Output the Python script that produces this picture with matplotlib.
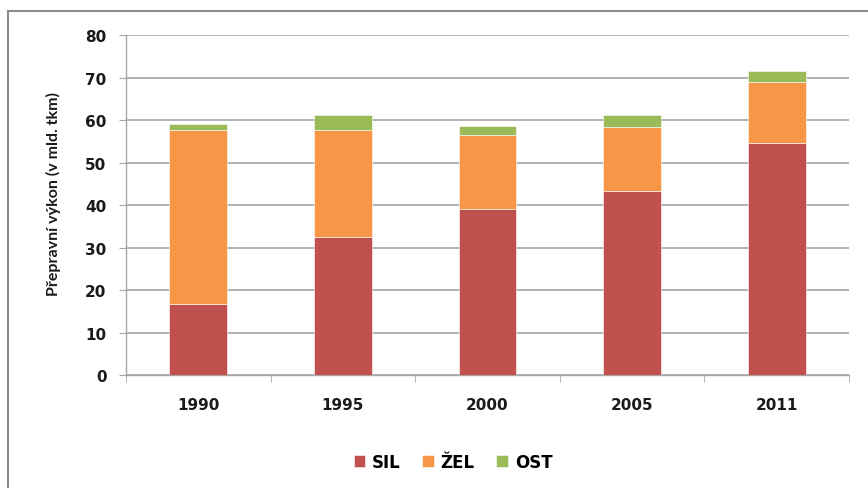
''' stacked bar chart of freight transport performance '''
import numpy as np
import matplotlib
import matplotlib.pyplot as plt
from matplotlib.lines import Line2D

matplotlib.use('Agg')

years = ['1990', '1995', '2000', '2005', '2011']
sil = [16.8, 32.5, 39.0, 43.4, 54.75]
zel = [40.9, 25.3, 17.6, 14.9, 14.15]
ost = [1.5, 3.5, 2.15, 3.0, 2.7]
series_names = ['SIL', 'ŽEL', 'OST']
colors = ['#C0504D', '#F79646', '#9BBB59']
y_ticks = [0, 10, 20, 30, 40, 50, 60, 70, 80]

TICK_FONT = {'family': 'DejaVu Sans', 'size': 11, 'weight': 'bold',
             'color': '#1a1a1a'}


def main():
    ''' draw the chart and save it '''
    plt.rcParams['font.family'] = ['Lato', 'DejaVu Sans']
    fig = plt.figure(figsize=(8.68, 4.89), dpi=100)
    ax = fig.add_axes([126 / 868, 1 - 376 / 489, 723 / 868, 340.5 / 489])

    x = np.arange(len(years))
    bottom = np.zeros(len(years))
    for name, vals, col in zip(series_names, [sil, zel, ost], colors):
        ax.bar(x, vals, width=0.4, bottom=bottom, color=col,
               edgecolor='white', linewidth=0.4, label=name, zorder=3)
        bottom += np.array(vals)

    ax.set_xlim(-0.5, len(years) - 0.5)
    ax.set_ylim(0, 80.2)
    ax.set_yticks(y_ticks)
    ax.set_yticklabels([str(t) for t in y_ticks], fontdict=TICK_FONT)
    ax.yaxis.grid(True, color='#A6A6A6', linewidth=1.2, zorder=0)

    # category labels centred, tick marks at the boundaries
    ax.set_xticks(x)
    ax.set_xticklabels(years, fontdict=TICK_FONT)
    ax.tick_params(axis='x', length=0, pad=16)
    ax.set_xticks(np.arange(-0.5, len(years)), minor=True)
    ax.tick_params(axis='x', which='minor', length=5, color='#A6A6A6')
    ax.tick_params(axis='y', length=5, color='#A6A6A6', pad=9)

    for side in ['top', 'right']:
        ax.spines[side].set_visible(False)
    for side in ['left', 'bottom']:
        ax.spines[side].set_color('#A6A6A6')
        ax.spines[side].set_linewidth(1.0)

    ax.set_ylabel('Přepravní výkon (v mld. tkm)', fontsize=11.5,
                  fontweight='bold', color='#1a1a1a')
    ax.yaxis.set_label_coords(-0.090, 0.535)

    handles, labels = ax.get_legend_handles_labels()
    fig.legend(handles, labels, loc='center',
               bbox_to_anchor=(453 / 868, 1 - 463 / 489),
               ncol=3, frameon=False, handlelength=0.7,
               handleheight=0.7, handletextpad=0.4, columnspacing=1.3,
               prop={'family': 'DejaVu Sans', 'weight': 'bold', 'size': 12})

    # outer chart border
    fig.add_artist(Line2D([8 / 868, 1], [1 - 12 / 489] * 2, color='#8C8C8C',
                          linewidth=1.5, transform=fig.transFigure))
    fig.add_artist(Line2D([8 / 868] * 2, [0, 1 - 12 / 489], color='#8C8C8C',
                          linewidth=1.5, transform=fig.transFigure))

    fig.savefig('out.png', dpi=100)


if __name__ == '__main__':
    main()
